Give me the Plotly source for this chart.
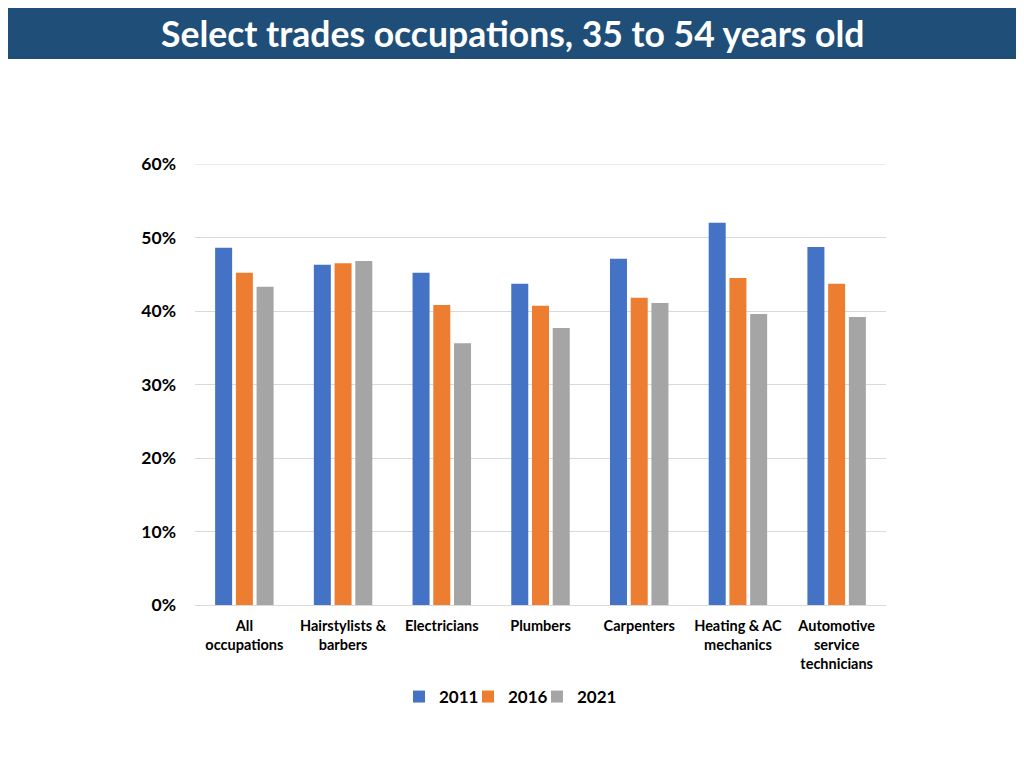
import plotly.graph_objects as go

categories = ["All<br>occupations", "Hairstylists &<br>barbers", "Electricians", "Plumbers",
              "Carpenters", "Heating & AC<br>mechanics", "Automotive<br>service<br>technicians"]
years = ["2011", "2016", "2021"]
v2011 = [48.6, 46.3, 45.2, 43.7, 47.1, 52.0, 48.7]
v2016 = [45.2, 46.5, 40.8, 40.7, 41.8, 44.5, 43.7]
v2021 = [43.3, 46.8, 35.6, 37.7, 41.1, 39.6, 39.2]
colors = ["#4472C4", "#ED7D31", "#A5A5A5"]
tick_vals = [0, 10, 20, 30, 40, 50, 60]
tick_text = ["0%", "10%", "20%", "30%", "40%", "50%", "60%"]

FONT = "Lato"
OFF = 8  # page body margin offset
W, H = 1024 - OFF, 768 - OFF

fig = go.Figure()
for name, vals, c in zip(years, [v2011, v2016, v2021], colors):
    fig.add_trace(go.Bar(x=categories, y=vals, name=name, marker_color=c,
                         marker_line_width=0))
# invisible spacer entry so the last legend label is not clipped
fig.add_trace(go.Scatter(x=[None], y=[None], mode="markers", name="",
                         marker=dict(color="rgba(0,0,0,0)", size=1,
                                     line=dict(width=0)),
                         hoverinfo="skip"))

L, R, T, B = 195 - OFF, 1024 - 886, 164 - OFF, 768 - 605
pw = W - L - R
ph = H - T - B


def px_x(x):
    return (x - OFF - L) / pw


def px_y(y):
    return (H - B - (y - OFF)) / ph


fig.update_layout(
    width=W, height=H,
    margin=dict(l=L, r=R, t=T, b=B),
    paper_bgcolor="white", plot_bgcolor="white",
    barmode="group", bargap=0.37, bargroupgap=0.18,
    font=dict(family=FONT, color="black"),
    showlegend=True,
    legend=dict(orientation="h", x=px_x(537), xanchor="center",
                y=px_y(697), yanchor="middle",
                font=dict(family=FONT, size=17, color="black", weight="bold"),
                entrywidth=24, entrywidthmode="pixels", traceorder="normal"),
    xaxis=dict(showgrid=False, showline=True, linecolor="#D9D9D9", linewidth=1,
               ticks="", ticklabelstandoff=8,
               tickfont=dict(family=FONT, size=14.5, color="black", weight="bold")),
    yaxis=dict(range=[0, 60], tickvals=tick_vals, ticktext=tick_text,
               showgrid=True, gridcolor="#D9D9D9", gridwidth=1, zeroline=False,
               showline=False, ticks="", ticklabelstandoff=18,
               tickfont=dict(family=FONT, size=17.5, color="black", weight="bold")),
    shapes=[dict(type="rect", xref="paper", yref="paper",
                 x0=px_x(-20), x1=px_x(1040),
                 y0=px_y(59), y1=px_y(7),
                 fillcolor="#1F4E79", line_width=0, layer="above"),
            dict(type="line", xref="paper", yref="y", x0=0, x1=1, y0=60, y1=60,
                 line=dict(color="#D9D9D9", width=1), layer="below")],
    annotations=[dict(text="Select trades occupations, 35 to 54 years old",
                      xref="paper", yref="paper",
                      x=px_x(512), y=px_y(33),
                      xanchor="center", yanchor="middle", showarrow=False,
                      font=dict(family=FONT, size=35.5, color="white", weight="bold"))],
)

fig.write_html("out.html")
